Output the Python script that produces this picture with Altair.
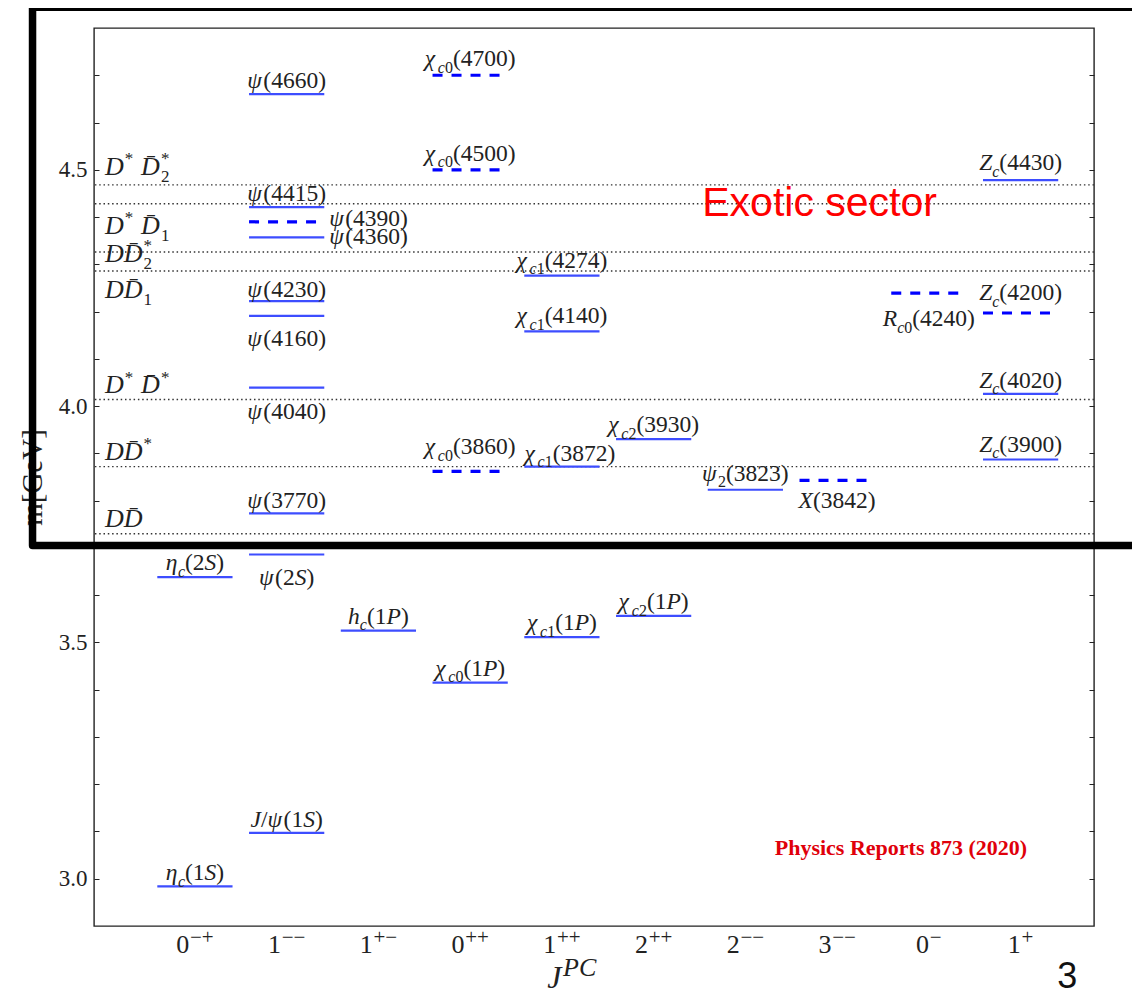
import unicodedata
import altair as alt
import pandas as pd

# ---------------- data ----------------
jpc_labels = ["0^{−+}", "1^{−−}", "1^{+−}", "0^{++}", "1^{++}", "2^{++}",
              "2^{−−}", "3^{−−}", "0^{−}", "1^{+}"]

state_names = [
    "η_{c}(1S)", "η_{c}(2S)",
    "J/ψ(1S)", "ψ(2S)", "ψ(3770)", "ψ(4040)", "ψ(4160)", "ψ(4230)",
    "ψ(4360)", "ψ(4390)", "ψ(4415)", "ψ(4660)",
    "h_{c}(1P)",
    "χ_{c0}(1P)", "χ_{c0}(3860)", "χ_{c0}(4500)", "χ_{c0}(4700)",
    "χ_{c1}(1P)", "χ_{c1}(3872)", "χ_{c1}(4140)", "χ_{c1}(4274)",
    "χ_{c2}(1P)", "χ_{c2}(3930)",
    "ψ_{2}(3823)",
    "X(3842)",
    "R_{c0}(4240)",
    "Z_{c}(3900)", "Z_{c}(4020)", "Z_{c}(4200)", "Z_{c}(4430)",
]
state_jpc = [1, 1,
             2, 2, 2, 2, 2, 2, 2, 2, 2, 2,
             3,
             4, 4, 4, 4,
             5, 5, 5, 5,
             6, 6,
             7,
             8,
             9,
             10, 10, 10, 10]
state_mass = [2.984, 3.638,
              3.097, 3.686, 3.773, 4.039, 4.191, 4.222, 4.357, 4.390, 4.421, 4.660,
              3.525,
              3.415, 3.862, 4.500, 4.700,
              3.511, 3.872, 4.158, 4.276,
              3.556, 3.930,
              3.823,
              3.843,
              4.239,
              3.887, 4.026, 4.197, 4.478]
state_dashed = [False, False,
                False, False, False, False, False, False, False, True, False, False,
                False,
                False, True, True, True,
                False, False, False, False,
                False, False,
                False,
                True,
                True,
                False, False, True, False]

threshold_names = ["DD̄", "DD̄^{*}", "D^{*} D̄^{*}", "DD̄_{1}", "DD̄_{2}^{*}",
                   "D^{*} D̄_{1}", "D^{*} D̄_{2}^{*}"]
threshold_mass = [3.730, 3.872, 4.014, 4.286, 4.326, 4.428, 4.468]

ytick_values = [3.0, 3.1, 3.2, 3.3, 3.4, 3.5, 3.6, 3.7, 3.8, 3.9,
                4.0, 4.1, 4.2, 4.3, 4.4, 4.5, 4.6, 4.7]

# ---------------- geometry / layout ----------------
X_DOMAIN = [-0.1, 10.8]
Y_DOMAIN = [2.9, 4.8]
W, H = 1000, 898
PXX = W / (X_DOMAIN[1] - X_DOMAIN[0])
PXY = H / (Y_DOMAIN[1] - Y_DOMAIN[0])
HALF = 0.41
STATE_FS = 23.5
THR_FS = 26
TICK_FS = 26

# label placement: (mode, dx px, baseline px above(+)/below(-) the level)
label_place = {
    "η_{c}(1S)": ("above", 0, 6), "η_{c}(2S)": ("above", 0, 7),
    "J/ψ(1S)": ("above", 0, 6), "ψ(2S)": ("below", 0, -30),
    "ψ(3770)": ("above", 0, 5), "ψ(4040)": ("below", 0, -31),
    "ψ(4160)": ("below", 0, -30), "ψ(4230)": ("above", 0, 4),
    "ψ(4360)": ("right", 0, -7), "ψ(4390)": ("right", 0, -4),
    "ψ(4415)": ("above", 0, 6), "ψ(4660)": ("above", 0, 6),
    "h_{c}(1P)": ("above", 0, 7),
    "χ_{c0}(1P)": ("above", 0, 7), "χ_{c0}(3860)": ("above", 0, 17),
    "χ_{c0}(4500)": ("above", 0, 9), "χ_{c0}(4700)": ("above", 0, 9),
    "χ_{c1}(1P)": ("above", 0, 7), "χ_{c1}(3872)": ("above", 8, 6),
    "χ_{c1}(4140)": ("above", 0, 8), "χ_{c1}(4274)": ("above", 0, 8),
    "χ_{c2}(1P)": ("above", 0, 7), "χ_{c2}(3930)": ("above", 0, 7),
    "ψ_{2}(3823)": ("above", 0, 9),
    "X(3842)": ("below", 0, -28),
    "R_{c0}(4240)": ("below", 0, -33),
    "Z_{c}(3900)": ("above", 0, 8), "Z_{c}(4020)": ("above", 0, 6),
    "Z_{c}(4200)": ("above", 0, 13), "Z_{c}(4430)": ("above", 0, 10),
}
threshold_place = [7, 7, 6, -27, -10, -30, 10]

W_IT = {"S": 0.5, "P": 0.611, "J": 0.444, "X": 0.611, "Z": 0.556, "R": 0.611,
        "h": 0.5, "c": 0.444, "D": 0.722, "m": 0.722, "C": 0.667,
        "ψ": 0.68, "χ": 0.56, "η": 0.52}
W_RM = {"(": 0.333, ")": 0.333, "/": 0.278, " ": 0.3, "*": 0.5,
        "−": 0.564, "+": 0.564}


def char_w(ch, it):
    if unicodedata.combining(ch):
        return 0.0
    return W_IT.get(ch, 0.5) if it else W_RM.get(ch, 0.5)


def parse(s):
    groups, i = [], 0
    while i < len(s):
        if s[i] in "_^" and s[i + 1:i + 2] == "{":
            j = s.index("}", i)
            groups.append(("sub" if s[i] == "_" else "sup", s[i + 2:j]))
            i = j + 1
        else:
            j = i
            while j < len(s) and not (s[j] in "_^" and s[j + 1:j + 2] == "{"):
                j += 1
            groups.append(("base", s[i:j]))
            i = j
    return groups


def runs(t, upright=False):
    out = []
    for ch in t:
        if unicodedata.combining(ch) and out:
            out[-1][0] += ch
            continue
        it = ch.isalpha() and not upright
        if out and out[-1][1] == it:
            out[-1][0] += ch
        else:
            out.append([ch, it])
    return out


def layout(s, size, small=0.68, raise_=0.42, upright=False, gap=0.0):
    pieces, x, prev, sub_start, sub_end = [], 0.0, None, 0.0, 0.0
    for level, txt in parse(s):
        fs = size if level == "base" else round(size * small)
        dy = {"base": 0.0, "sub": 0.28 * size, "sup": -raise_ * size}[level]
        if level == "sup" and prev == "sub":
            x = sub_start
        elif level != "base":
            x += gap * size
        start = x
        for t, it in runs(txt, upright):
            w = sum(char_w(c, it) for c in t) * fs
            pieces.append(dict(text=t, italic=it, size=fs, dx=x, dy=dy))
            x += w
        if level == "sub":
            sub_start, sub_end = start, x
        if level == "sup" and prev == "sub":
            x = max(x, sub_end)
        prev = level
    return pieces, x


def place(s, size, x0, y0, start_px, base_px, **kw):
    """x0,y0 anchor in data units; start_px offset of text start; base_px baseline above(+)."""
    pcs, _ = layout(s, size, **kw)
    rows = []
    for p in pcs:
        rows.append(dict(text=p["text"], italic=p["italic"], size=p["size"],
                         x=x0 + (start_px + p["dx"]) / PXX,
                         y=y0 + (base_px - p["dy"]) / PXY))
    return rows


# ---------------- tables ----------------
levels = pd.DataFrame(dict(name=state_names, jpc=state_jpc, mass=state_mass,
                           dashed=state_dashed))
levels["x0"] = levels["jpc"] - HALF
levels["x1"] = levels["jpc"] + HALF

text_rows = []
for n, j, m in zip(state_names, state_jpc, state_mass):
    mode, dx, off = label_place[n]
    _, wtot = layout(n, STATE_FS)
    if mode == "right":
        start = HALF * PXX + 5 + dx
    else:
        start = -wtot / 2 + dx
    text_rows += place(n, STATE_FS, j, m, start, off)

thr_x = X_DOMAIN[0] + 11 / PXX
for n, m, off in zip(threshold_names, threshold_mass, threshold_place):
    text_rows += place(n, THR_FS, thr_x, m, 0, off, small=0.66, raise_=0.42,
                       gap=0.04)

# category (J^PC) tick labels below the frame
for k, lab in enumerate(jpc_labels, start=1):
    kw = dict(small=0.8, raise_=0.36, upright=True, gap=0.03)
    _, wtot = layout(lab, TICK_FS, **kw)
    text_rows += place(lab, TICK_FS, k, Y_DOMAIN[0], -wtot / 2, -27, **kw)

# x-axis title J^PC
text_rows += place("J^{PC}", 32, 4.84, 2.768, 0, 0, small=0.8, raise_=0.40,
                   gap=0.05)
texts = pd.DataFrame(text_rows)

thresholds = pd.DataFrame(dict(name=threshold_names, mass=threshold_mass))

box = pd.DataFrame(dict(x0=[-0.77], x1=[11.6], y0=[3.705], y1=[4.844]))
exotic = pd.DataFrame(dict(x=[6.53], y=[4.402], text=["Exotic sector"]))
physrep = pd.DataFrame(dict(x=[7.32], y=[3.05], text=["Physics Reports 873 (2020)"]))
page = pd.DataFrame(dict(x=[10.40], y=[2.768], text=["3"]))

# ---------------- encodings ----------------
xscale = alt.Scale(domain=X_DOMAIN, nice=False, zero=False)
yscale = alt.Scale(domain=Y_DOMAIN, nice=False, zero=False)

xaxis = alt.Axis(values=list(range(1, 11)), labels=False,
                 ticks=False, domain=False, grid=False, title=None)
yaxis = alt.Axis(values=ytick_values,
                 labelExpr="(abs(datum.value*2 - round(datum.value*2)) < 0.001) ? format(datum.value, '.1f') : ''",
                 offset=-5, tickSize=5, tickColor="#222222", labelPadding=7,
                 domain=False, grid=False,
                 labelFont="Liberation Serif", labelFontSize=23, labelColor="#222222",
                 title="m[GeV]", titleFont="Liberation Serif", titleFontSize=29,
                 titleFontWeight="normal", titleColor="#222222",
                 titleX=-67, titleY=449, titleAngle=270,
                 titleAlign="center", titleBaseline="middle")


def X(f):
    return alt.X(f, type="quantitative", scale=xscale, axis=xaxis)


def Y(f):
    return alt.Y(f, type="quantitative", scale=yscale, axis=yaxis)


thr_rules = alt.Chart(thresholds).mark_rule(
    color="#333333", strokeWidth=1.4, strokeDash=[1.5, 2.8]
).encode(y=Y("mass"))

solid = alt.Chart(levels).transform_filter("!datum.dashed").mark_rule(
    color="#3d4dff", strokeWidth=2.2
).encode(x=X("x0"), x2="x1", y=Y("mass"))

dashed = alt.Chart(levels).transform_filter("datum.dashed").mark_rule(
    color="#0000ff", strokeWidth=3.2, strokeDash=[10, 9]
).encode(x=X("x0"), x2="x1", y=Y("mass"))

txt_it = alt.Chart(texts).transform_filter("datum.italic").mark_text(
    align="left", baseline="alphabetic", font="Liberation Serif",
    fontStyle="italic", color="#222222"
).encode(x=X("x"), y=Y("y"), text="text:N", size=alt.Size("size:Q", scale=None))

txt_rm = alt.Chart(texts).transform_filter("!datum.italic").mark_text(
    align="left", baseline="alphabetic", font="Liberation Serif",
    fontStyle="normal", color="#222222"
).encode(x=X("x"), y=Y("y"), text="text:N", size=alt.Size("size:Q", scale=None))

exotic_t = alt.Chart(exotic).mark_text(
    align="left", baseline="alphabetic", font="Liberation Sans", fontSize=41,
    color="#ff0000"
).encode(x=X("x"), y=Y("y"), text="text:N")

phys_t = alt.Chart(physrep).mark_text(
    align="left", baseline="alphabetic", font="Liberation Serif", fontSize=22,
    fontWeight="bold", color="#e0000a"
).encode(x=X("x"), y=Y("y"), text="text:N")

page_t = alt.Chart(page).mark_text(
    align="left", baseline="alphabetic", font="Liberation Sans", fontSize=36,
    color="#111111"
).encode(x=X("x"), y=Y("y"), text="text:N")

box_m = alt.Chart(box).mark_rect(
    fillOpacity=0, stroke="#000000", strokeWidth=7.5, strokeJoin="round"
).encode(x=X("x0"), x2="x1", y=Y("y0"), y2="y1")

inner = alt.layer(thr_rules, solid, dashed, txt_it, txt_rm,
                  exotic_t, phys_t, page_t, box_m)

right_ticks = alt.Chart(thresholds).mark_rule(opacity=0).encode(
    y=alt.Y("mass", type="quantitative", scale=yscale,
            axis=alt.Axis(orient="right", values=ytick_values, labels=False,
                          offset=-5, tickSize=5, tickColor="#222222",
                          domain=False, grid=False, title=None))
)

chart = alt.layer(inner, right_ticks).resolve_axis(y="independent").properties(
    width=W, height=H,
    padding={"left": 86, "top": 20, "right": 38, "bottom": 65},
    autosize="none",
).configure_view(stroke="#222222", strokeWidth=1.4)

chart.save("out.html", embed_options={"renderer": "svg", "actions": False})
